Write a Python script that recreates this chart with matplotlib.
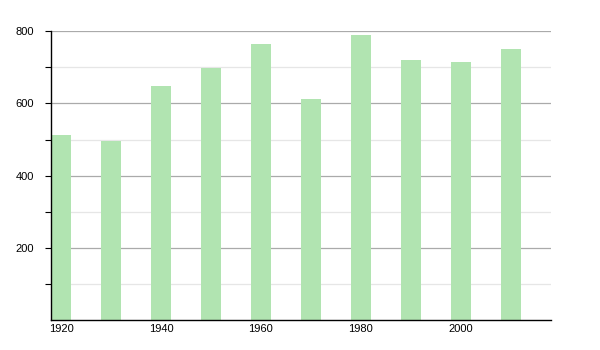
import matplotlib
matplotlib.use("Agg")
import matplotlib.pyplot as plt

years = [1920, 1930, 1940, 1950, 1960, 1970, 1980, 1990, 2000, 2010]
population = [512, 495, 649, 699, 766, 613, 791, 721, 714, 752]
xtick_years = [1920, 1940, 1960, 1980, 2000]
ytick_major = [200, 400, 600, 800]
ytick_minor = [100, 300, 500, 700]

plt.rcParams["font.family"] = ["Liberation Sans", "DejaVu Sans"]

fig = plt.figure(figsize=(6, 3.5), dpi=100)
ax = fig.add_axes([0.085, 0.0857, 0.833, 0.825])
ax.bar(years, population, width=4, color="#b1e4b1", zorder=2)

ax.set_xlim(1918, 2018)
ax.set_ylim(0, 800)
ax.set_xticks(xtick_years)
ax.set_xticklabels([str(y) for y in xtick_years])
ax.set_yticks(ytick_major)
ax.set_yticks(ytick_minor, minor=True)
ax.set_yticklabels([str(v) for v in ytick_major])
ax.grid(axis="y", which="major", color="#aaaaaa", lw=0.9, zorder=0)
ax.grid(axis="y", which="minor", color="#e6e6e6", lw=0.9, zorder=0)
ax.set_axisbelow(True)
ax.tick_params(axis="x", length=0, labelsize=8, pad=3)
ax.tick_params(axis="y", which="both", length=4, width=0.8, labelsize=8, pad=8)
for s in ("top", "right"):
    ax.spines[s].set_visible(False)
ax.spines["left"].set_linewidth(1)
ax.spines["bottom"].set_linewidth(1)

fig.savefig("out.png", dpi=100)
